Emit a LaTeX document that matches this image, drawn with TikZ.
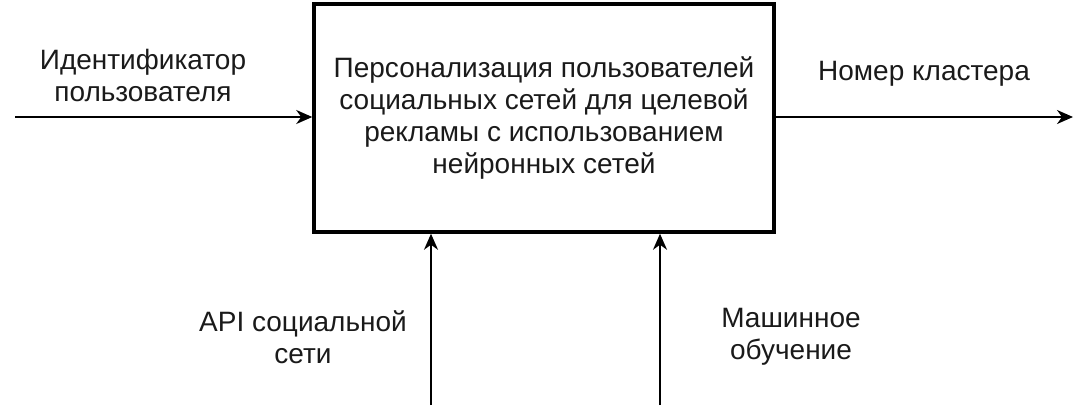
\documentclass[tikz,border=0pt]{standalone}
\usepackage{fontspec}
\setmainfont{Liberation Sans}
\usetikzlibrary{arrows.meta}
\definecolor{ink}{HTML}{1A1A1A}
\begin{document}
\begin{tikzpicture}[x=1pt,y=-1pt,
  txt/.style={align=center,font=\fontsize{28}{32}\selectfont,inner sep=0pt,text=ink},
  flow/.style={line width=1.8pt,-{Stealth[length=16pt,width=14pt,inset=5pt]}}]
\useasboundingbox (0,0) rectangle (1092,420);
\node[draw,line width=3.5pt,minimum width=460pt,minimum height=228pt,txt] (box) at (544,118)
  {Персонализация пользователей\\социальных сетей для целевой\\рекламы с использованием\\нейронных сетей};
\coordinate (in) at (15,117);
\coordinate (out) at (1073,117);
\coordinate (b1) at (431,405);
\coordinate (b2) at (660,405);
\draw[flow] (in) -- (in -| box.west);
\draw[flow] (out -| box.east) -- (out);
\draw[flow] (b1) -- (b1 |- box.south);
\draw[flow] (b2) -- (b2 |- box.south);
\node[txt] (lin) at (143,75) {Идентификатор\\пользователя};
\node[txt] (lout) at (924,74) {Номер кластера};
\node[txt] (lb1) at (303,337) {API социальной\\сети};
\node[txt] (lb2) at (791,337) {Машинное\\обучение};
\end{tikzpicture}
\end{document}
